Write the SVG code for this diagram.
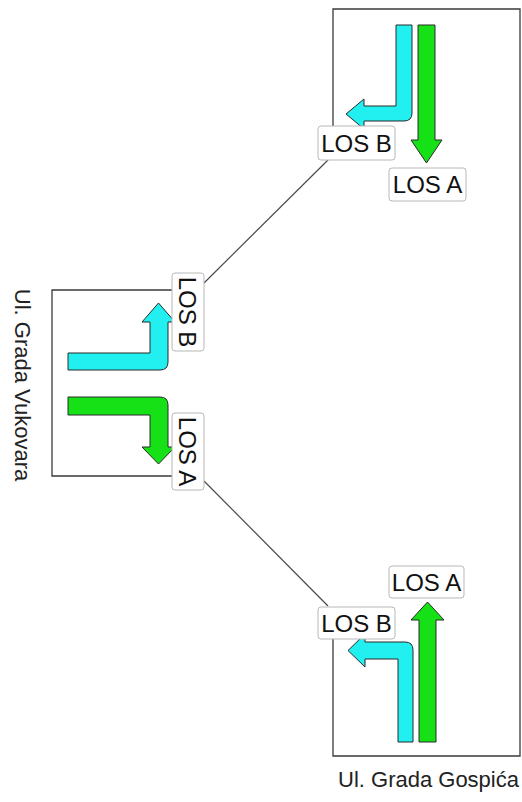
<svg xmlns="http://www.w3.org/2000/svg" width="522" height="802" viewBox="0 0 522 802">
  <style>
    .frame { fill: none; stroke: #3a3a3a; stroke-width: 1.3; }
    .conn { fill: none; stroke: #4a4a4a; stroke-width: 1.2; }
    .cyan { fill: #22f0f0; stroke: #2a2a2a; stroke-width: 1; stroke-linejoin: round; }
    .green { fill: #16e016; stroke: #2a2a2a; stroke-width: 1; stroke-linejoin: round; }
    .lbox { fill: #ffffff; stroke: #b8b8b8; stroke-width: 1; }
    .ltxt { font-family: "Liberation Sans", Arial, sans-serif; font-size: 24px; fill: #111; text-anchor: middle; }
    .street { font-family: "Liberation Sans", Arial, sans-serif; font-size: 22px; fill: #222; text-anchor: middle; }
  </style>
  <rect width="522" height="802" fill="#ffffff"/>

  <g id="frames">
    <path class="frame" d="M333,126 V9 H520 V756 H333 V639"/>
    <path class="frame" d="M172,290 H52 V476 H172"/>
  </g>

  <g id="connectors">
    <line class="conn" x1="328" y1="160" x2="204" y2="283"/>
    <line class="conn" x1="204" y1="481" x2="328" y2="606"/>
  </g>

  <g id="top-intersection">
    <path class="cyan" d="M396,25 H412 V113 Q412,121 404,121 H364 V129 L346,114 L364,99 V106 H396 Z"/>
    <path class="green" d="M418,25 H435 V140 H442 L426.5,163 L411,140 H418 Z"/>
    <g id="top-los-b">
      <rect class="lbox" x="318" y="126" width="77" height="34" rx="3"/>
      <text class="ltxt" x="356.5" y="151.5">LOS B</text>
    </g>
    <g id="top-los-a">
      <rect class="lbox" x="389" y="168" width="77" height="33" rx="3"/>
      <text class="ltxt" x="427.5" y="193">LOS A</text>
    </g>
  </g>

  <g id="left-intersection">
    <path class="cyan" d="M68,353 H150 V322 H142 L158.5,303 L175,322 H168 V362 Q168,370 160,370 H68 Z"/>
    <path class="green" d="M68,397 H160 Q168,397 168,405 V447 H175 L158.5,464 L142,447 H150 V415 H68 Z"/>
    <g id="left-los-b">
      <rect class="lbox" x="172" y="273" width="32" height="78" rx="3"/>
      <text class="ltxt" transform="translate(188,312) rotate(90)" x="0" y="8.6">LOS B</text>
    </g>
    <g id="left-los-a">
      <rect class="lbox" x="172" y="413" width="32" height="77" rx="3"/>
      <text class="ltxt" transform="translate(188,451.5) rotate(90)" x="0" y="8.6">LOS A</text>
    </g>
    <text class="street" transform="translate(22,385) rotate(90)" x="0" y="7">Ul. Grada Vukovara</text>
  </g>

  <g id="bottom-intersection">
    <path class="cyan" d="M398,742 V659 H365 V667 L348,650.5 L365,634 V642 H405 Q413,642 413,650 V742 Z"/>
    <path class="green" d="M419,742 V620 H411 L427.5,602 L444,620 H436 V742 Z"/>
    <g id="bottom-los-a">
      <rect class="lbox" x="389" y="566" width="75" height="32" rx="3"/>
      <text class="ltxt" x="426.5" y="590.5">LOS A</text>
    </g>
    <g id="bottom-los-b">
      <rect class="lbox" x="318" y="607" width="77" height="32" rx="3"/>
      <text class="ltxt" x="356.5" y="631.5">LOS B</text>
    </g>
    <text class="street" x="428.5" y="787">Ul. Grada Gospića</text>
  </g>
</svg>
